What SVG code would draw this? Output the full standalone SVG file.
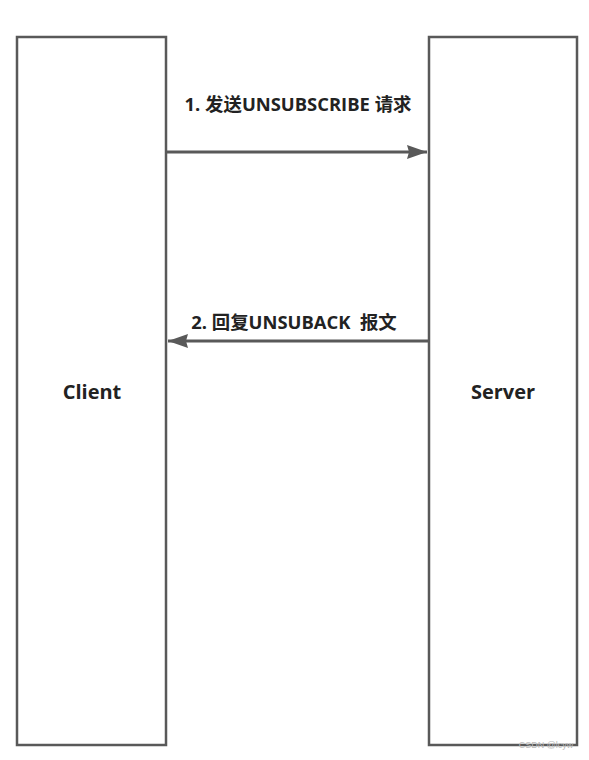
<svg xmlns="http://www.w3.org/2000/svg" width="589" height="760" viewBox="0 0 589 760">
<style>
.box{fill:#fff;stroke:#595959;stroke-width:2.5}
.lbl{font-family:"Open Sans","Noto Sans CJK SC",sans-serif;font-weight:bold;font-size:20px;fill:#222}
.edge{stroke:#595959;stroke-width:3;fill:none}
.el{font-family:"Open Sans","Noto Sans CJK SC",sans-serif;font-weight:bold;font-size:18.4px;fill:#222;white-space:pre}
</style>
<defs>
<marker id="ah2" viewBox="0 0 20 14" refX="20" refY="7" markerWidth="20" markerHeight="14" markerUnits="userSpaceOnUse" orient="auto"><path d="M0,0 L20,7 L0,14 L2,7 Z" fill="#595959"/></marker>
</defs>
<rect width="589" height="760" fill="#fff"/>
<g id="client">
<rect class="box" x="17" y="37" width="149" height="708"/>
<text class="lbl" x="92" y="399" text-anchor="middle">Client</text>
</g>
<g id="server">
<rect class="box" x="429" y="37" width="148" height="708"/>
<text class="lbl" x="503" y="399" text-anchor="middle">Server</text>
</g>
<g id="connectors">
<line class="edge" x1="167" y1="152" x2="427" y2="152" marker-end="url(#ah2)"/>
<text class="el" x="298" y="111" text-anchor="middle">1. 发送UNSUBSCRIBE 请求</text>
<line class="edge" x1="428" y1="341" x2="168" y2="341" marker-end="url(#ah2)"/>
<text class="el" x="294" y="329" text-anchor="middle" xml:space="preserve">2. 回复UNSUBACK  报文</text>
</g>
<text x="546" y="748" text-anchor="middle" font-family="Liberation Sans,sans-serif" font-size="9" fill="#bbb">CSDN @lcyw</text>
</svg>
